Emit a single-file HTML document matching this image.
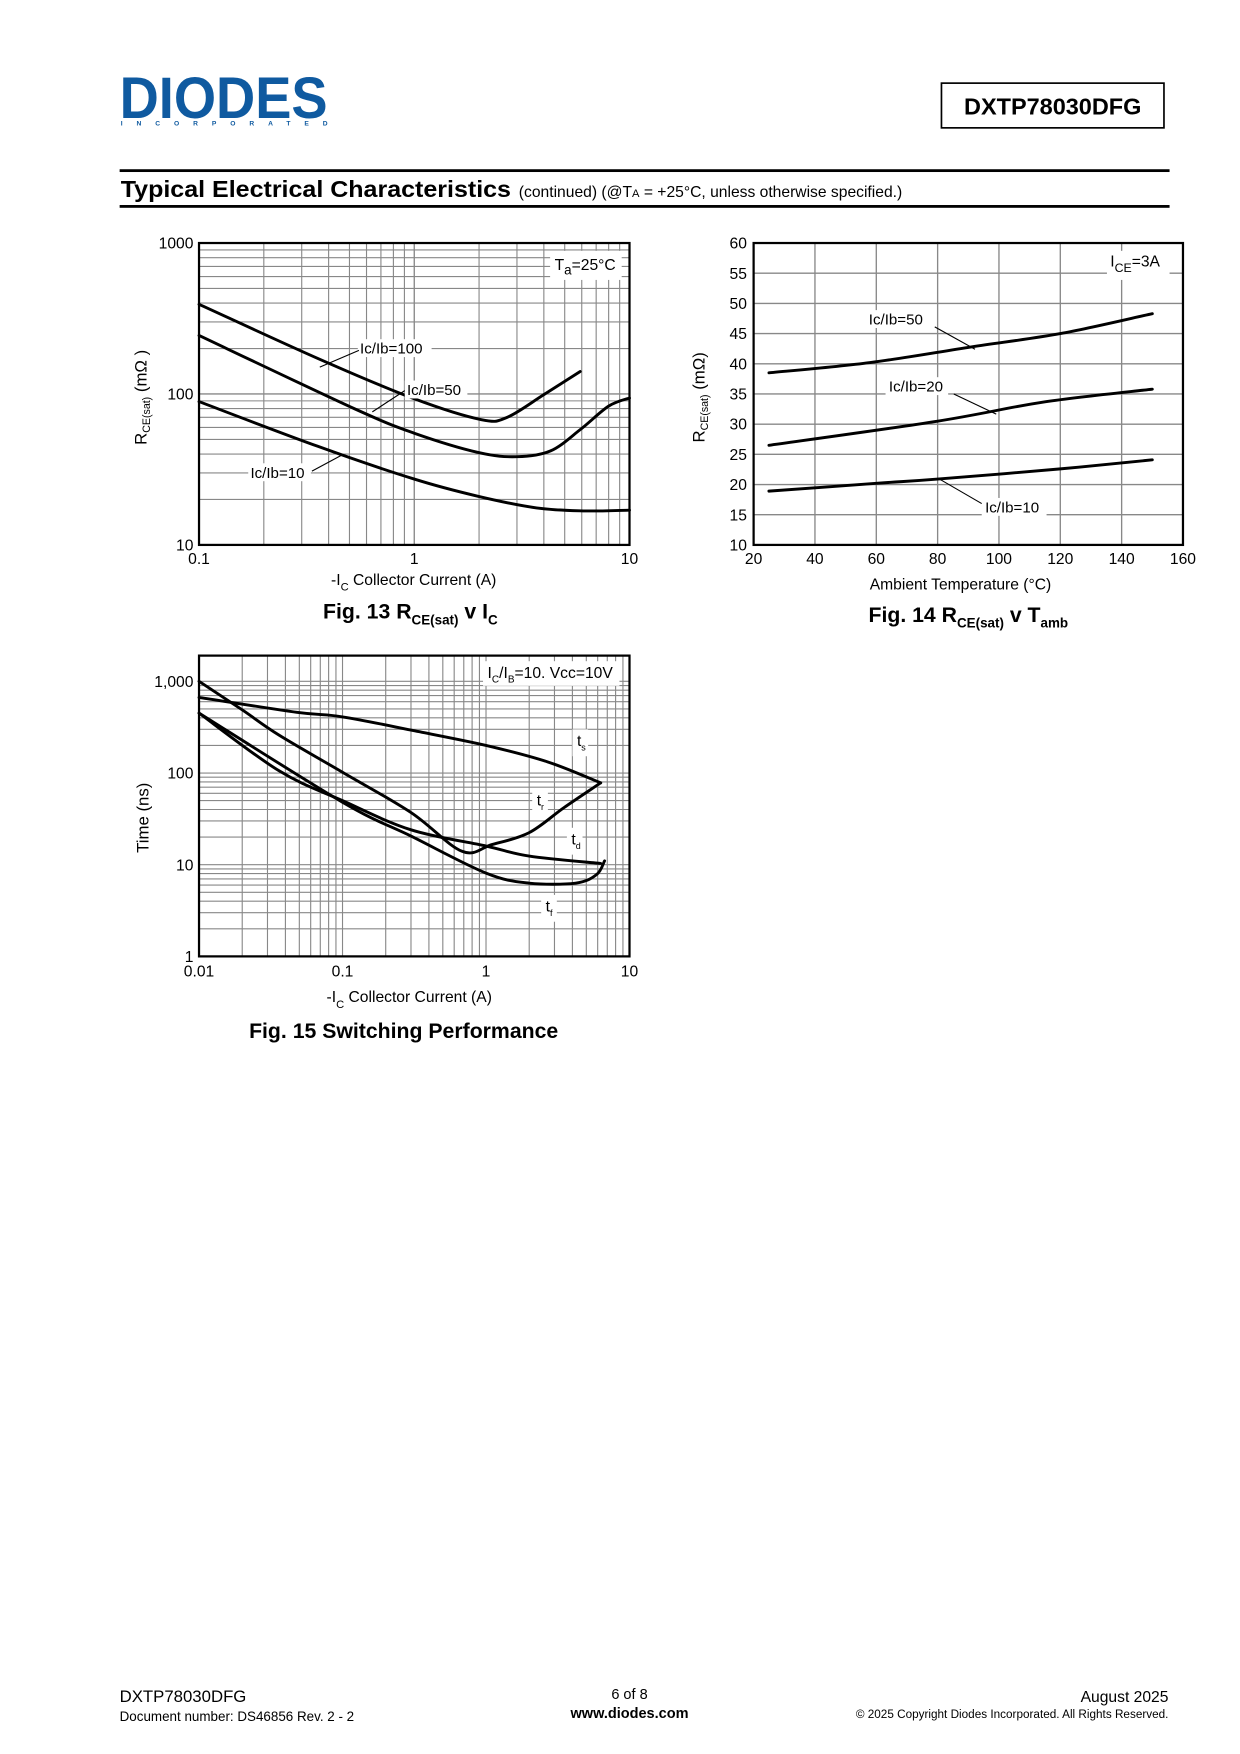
<!DOCTYPE html>
<html><head><meta charset="utf-8"><style>
html,body{margin:0;padding:0;background:#fff}
svg{display:block}
text{font-family:"Liberation Sans",Arial,sans-serif}
</style></head><body>
<svg id="s" width="1240" height="1754" viewBox="0 0 1109 1568" xmlns="http://www.w3.org/2000/svg">
<g>
<text x="107" y="105" font-size="52" font-weight="bold" fill="#0f5aa0" textLength="186" lengthAdjust="spacingAndGlyphs">DIODES</text>
<text x="108" y="112" font-size="6" font-weight="bold" fill="#0f5aa0" textLength="185" lengthAdjust="spacing">INCORPORATED</text>
<rect x="842" y="74" width="199" height="40" fill="none" stroke="#000" stroke-width="1.5"/>
<text x="941.5" y="102" font-size="21" font-weight="bold" text-anchor="middle">DXTP78030DFG</text>
<rect x="107" y="151" width="939" height="2.5" fill="#000"/>
<rect x="107" y="183" width="939" height="2.5" fill="#000"/>
<text x="108" y="176" font-size="21" font-weight="bold" textLength="349" lengthAdjust="spacingAndGlyphs">Typical Electrical Characteristics</text>
<text x="464" y="176" font-size="14">(continued)  (@T<tspan font-size="10">A</tspan> = +25°C, unless otherwise specified.)</text>
</g>
<g id="f13"></g>
<g id="f14"></g>
<g id="f15"></g>
<g>
<text x="107" y="1522" font-size="15">DXTP78030DFG</text>
<text x="107" y="1539" font-size="12">Document number: DS46856 Rev. 2 - 2</text>
<text x="563" y="1519" font-size="13" text-anchor="middle">6 of 8</text>
<text x="563" y="1536" font-size="13" font-weight="bold" text-anchor="middle">www.diodes.com</text>
<text x="1045" y="1522" font-size="14" text-anchor="end">August 2025</text>
<text x="1045" y="1536" font-size="10.5" text-anchor="end">© 2025 Copyright Diodes Incorporated. All Rights Reserved.</text>
</g>
</svg>
<script>
const NS="http://www.w3.org/2000/svg";
// Fig 13 data
const f13X100=[0.1,0.356,1,2.05,2.7,4.0,5.9];
const f13Y100=[393,172,93,67.6,70,99,141];
const f13X50=[0.1,0.526,1,1.98,3.0,4.3,5.9,8.0,10];
const f13Y50=[244,80,55,41,38.4,42,58,83,94];
const f13X10=[0.1,0.356,1,1.98,3.7,6.1,10];
const f13Y10=[89,45,27.3,21,17.6,16.8,17];
// Fig 14 data
const f14X50=[25,58,91,120,150];
const f14Y50=[38.5,40.2,42.8,45,48.3];
const f14X20=[25,80,115,150];
const f14Y20=[26.5,30.5,33.7,35.8];
const f14X10=[25,60,80,120,150];
const f14Y10=[18.9,20.2,20.9,22.6,24.1];
const f14XTicks=[20,40,60,80,100,120,140,160];
const f14YTicks=[10,15,20,25,30,35,40,45,50,55,60];
// Fig 15 data
const tsX=[0.01,0.048,0.1,0.3,1,2.7,6.3];
const tsY=[667,460,410,294,200,132,78];
const trX=[0.01,0.02,0.036,0.1,0.3,0.68,1.1,2.0,3.5,6.3];
const trY=[1000,488,260,102,37,14,16.6,22.4,42,78];
const tdX=[0.01,0.036,0.1,0.3,1,2.0,6.3];
const tdY=[450,106,50,24,16,12.4,10.3];
const tfX=[0.01,0.1,0.3,1,2,4.2,5.9,6.7];
const tfY=[450,48,20.5,8.1,6.3,6.3,7.8,11];

function el(p,tag,at,txt){const e=document.createElementNS(NS,tag);for(const k in at)e.setAttribute(k,at[k]);if(txt!==undefined)e.textContent=txt;p.appendChild(e);return e;}
const L=Math.log10;
function line(p,x1,y1,x2,y2,c,w,name){const e=el(p,'line',{x1,y1,x2,y2,stroke:c,'stroke-width':w});

}
function txt(p,x,y,s,size,anchor,name){const e=el(p,'text',{x,y,'font-size':size,'text-anchor':anchor||'start'});e.innerHTML=s;


return e;}
function curve(p,xs,ys,fx,fy,name){
const P=xs.map((v,i)=>[fx(v),fy(ys[i])]);
let d='M'+P[0][0].toFixed(1)+','+P[0][1].toFixed(1);
for(let i=0;i<P.length-1;i++){const p0=P[Math.max(i-1,0)],p1=P[i],p2=P[i+1],p3=P[Math.min(i+2,P.length-1)];
const c1=[p1[0]+(p2[0]-p0[0])/6,p1[1]+(p2[1]-p0[1])/6],c2=[p2[0]-(p3[0]-p1[0])/6,p2[1]-(p3[1]-p1[1])/6];
d+=' C'+c1.map(v=>v.toFixed(1)).join(',')+' '+c2.map(v=>v.toFixed(1)).join(',')+' '+p2.map(v=>v.toFixed(1)).join(',');}
const e=el(p,'path',{d,fill:'none',stroke:'#000','stroke-width':2.6,'stroke-linejoin':'round','stroke-linecap':'round'});

}
function wlabel(p,x,y,w,h){const e=el(p,'rect',{x,y,width:w,height:h,fill:'#fff'});

}

// ---- Fig 13
(function(){
const g=document.getElementById('f13');
const X0=178,X1=563,Y0=217,Y1=487;
const fx=v=>X0+(X1-X0)/2*L(v/0.1), fy=v=>Y1-(Y1-Y0)/2*L(v/10);
for(let d=0.1;d<5;d*=10)for(let k=1;k<10;k++){const v=d*k;if(v>10.001)continue;line(g,fx(v),Y0,fx(v),Y1,'#888',k==1?1.2:1,'x-gridline');}
for(let d=10;d<500;d*=10)for(let k=1;k<10;k++){const v=d*k;if(v>1000.1)continue;line(g,X0,fy(v),X1,fy(v),'#888',k==1?1.2:1,'y-gridline');}
[[0.1,'0.1'],[1,'1'],[10,'10']].forEach(t=>txt(g,fx(t[0]),504,t[1],14,'middle','x-tick-label'));
[[10,'10'],[100,'100'],[1000,'1000']].forEach(t=>txt(g,173,fy(t[0])+5,t[1],14,'end','y-tick-label'));
wlabel(g,492,224,64,26);txt(g,496,241,'T<tspan font-size="12" dy="4">a</tspan><tspan dy="-4">=25°C</tspan>',14,'start','temp-annotation');
curve(g,f13X100,f13Y100,fx,fy,'curve-icib-100');
curve(g,f13X50,f13Y50,fx,fy,'curve-icib-50');
curve(g,f13X10,f13Y10,fx,fy,'curve-icib-10');
wlabel(g,320,303,66,16);txt(g,322,316,'Ic/Ib=100',13.5,'start','label-icib-100');line(g,321,313,286,328,'#000',1,'leader');
wlabel(g,362,340,56,16);txt(g,364,353,'Ic/Ib=50',13.5,'start','label-icib-50');line(g,362,349,333,368,'#000',1,'leader');
wlabel(g,222,414,56,16);txt(g,224,427,'Ic/Ib=10',13.5,'start','label-icib-10');line(g,279,421,305,407,'#000',1,'leader');
const r=el(g,'rect',{x:X0,y:Y0,width:X1-X0,height:Y1-Y0,fill:'none',stroke:'#000','stroke-width':2});


const yt=txt(g,0,0,'R<tspan font-size="9.5" dy="3">CE(sat)</tspan><tspan dy="-3"> (mΩ )</tspan>',15,'middle','y-axis-title');yt.setAttribute('transform','translate(131,355) rotate(-90)');
txt(g,370,523,'-I<tspan font-size="10" dy="5">C</tspan><tspan dy="-5">    Collector Current (A)</tspan>',14,'middle','x-axis-title');
txt(g,367,553,'<tspan font-weight="bold">Fig. 13    R<tspan font-size="12" dy="5">CE(sat)</tspan><tspan dy="-5"> v  I</tspan><tspan font-size="12" dy="5">C</tspan></tspan>',19,'middle','figure-caption');
})();

// ---- Fig 14
(function(){
const g=document.getElementById('f14');
const X0=674,X1=1058,Y0=217,Y1=487;
const fx=v=>X0+(X1-X0)*(v-20)/140, fy=v=>Y1-(Y1-Y0)*(v-10)/50;
f14XTicks.forEach(v=>{line(g,fx(v),Y0,fx(v),Y1,'#888',1.2,'x-gridline');txt(g,fx(v),504,String(v),14,'middle','x-tick-label');});
f14YTicks.forEach(v=>{line(g,X0,fy(v),X1,fy(v),'#888',1.2,'y-gridline');txt(g,668,fy(v)+5,String(v),14,'end','y-tick-label');});
wlabel(g,990,224,56,26);txt(g,993,238,'I<tspan font-size="11" dy="5">CE</tspan><tspan dy="-5">=3A</tspan>',14,'start','current-annotation');
curve(g,f14X50,f14Y50,fx,fy,'curve-icib-50');
curve(g,f14X20,f14Y20,fx,fy,'curve-icib-20');
curve(g,f14X10,f14Y10,fx,fy,'curve-icib-10');
wlabel(g,774,277,56,16);txt(g,777,290,'Ic/Ib=50',13.5,'start','label-icib-50');line(g,836,292,872,312,'#000',1,'leader');
wlabel(g,792,337,56,16);txt(g,795,350,'Ic/Ib=20',13.5,'start','label-icib-20');line(g,853,352,891,370,'#000',1,'leader');
wlabel(g,878,445,58,16);txt(g,881,458,'Ic/Ib=10',13.5,'start','label-icib-10');line(g,878,450,840,428,'#000',1,'leader');
const r=el(g,'rect',{x:X0,y:Y0,width:X1-X0,height:Y1-Y0,fill:'none',stroke:'#000','stroke-width':2});


const yt=txt(g,0,0,'R<tspan font-size="9.5" dy="3">CE(sat)</tspan><tspan dy="-3"> (mΩ)</tspan>',15,'middle','y-axis-title');yt.setAttribute('transform','translate(630,355) rotate(-90)');
txt(g,859,527,'Ambient Temperature (°C)',14,'middle','x-axis-title');
txt(g,866,556,'<tspan font-weight="bold">Fig. 14    R<tspan font-size="12" dy="5">CE(sat)</tspan><tspan dy="-5"> v  T</tspan><tspan font-size="12" dy="5">amb</tspan></tspan>',19,'middle','figure-caption');
})();

// ---- Fig 15
(function(){
const g=document.getElementById('f15');
const X0=178,X1=563,Y0=586,Y1=855;
const fx=v=>X0+(X1-X0)/3*L(v/0.01), fy=v=>Y1-82*L(v);
for(let d=0.01;d<5;d*=10)for(let k=1;k<10;k++){const v=d*k;if(v>10.001)continue;line(g,fx(v),Y0,fx(v),Y1,'#888',1,'x-gridline');}
for(let d=1;d<5000;d*=10)for(let k=1;k<10;k++){const v=d*k;if(fy(v)<Y0)continue;line(g,X0,fy(v),X1,fy(v),'#888',1,'y-gridline');}
[[0.01,'0.01'],[0.1,'0.1'],[1,'1'],[10,'10']].forEach(t=>txt(g,fx(t[0]),873,t[1],14,'middle','x-tick-label'));
[[1,'1'],[10,'10'],[100,'100'],[1000,'1,000']].forEach(t=>txt(g,173,fy(t[0])+5,t[1],14,'end','y-tick-label'));
wlabel(g,432,591,122,22);txt(g,436,606,'I<tspan font-size="9" dy="4">C</tspan><tspan dy="-4">/I</tspan><tspan font-size="9" dy="4">B</tspan><tspan dy="-4">=10. Vcc=10V</tspan>',14,'start','conditions-annotation');
curve(g,tsX,tsY,fx,fy,'curve-ts');
curve(g,trX,trY,fx,fy,'curve-tr');
curve(g,tdX,tdY,fx,fy,'curve-td');
curve(g,tfX,tfY,fx,fy,'curve-tf');
wlabel(g,512,652,14,24);txt(g,516,667,'t<tspan font-size="8" dy="4">s</tspan>',14,'start','label-ts');
wlabel(g,476,705,14,24);txt(g,480,720,'t<tspan font-size="8" dy="4">r</tspan>',14,'start','label-tr');
wlabel(g,507,740,14,24);txt(g,511,755,'t<tspan font-size="8" dy="4">d</tspan>',14,'start','label-td');
wlabel(g,484,800,14,24);txt(g,488,815,'t<tspan font-size="8" dy="4">f</tspan>',14,'start','label-tf');
const r=el(g,'rect',{x:X0,y:Y0,width:X1-X0,height:Y1-Y0,fill:'none',stroke:'#000','stroke-width':2});


const yt=txt(g,0,0,'Time (ns)',15,'middle','y-axis-title');yt.setAttribute('transform','translate(133,731) rotate(-90)');
txt(g,366,896,'-I<tspan font-size="10" dy="5">C</tspan><tspan dy="-5">    Collector Current (A)</tspan>',14,'middle','x-axis-title');
txt(g,361,928,'<tspan font-weight="bold">Fig. 15  Switching Performance</tspan>',19,'middle','figure-caption');
})();
</script>
</body></html>
